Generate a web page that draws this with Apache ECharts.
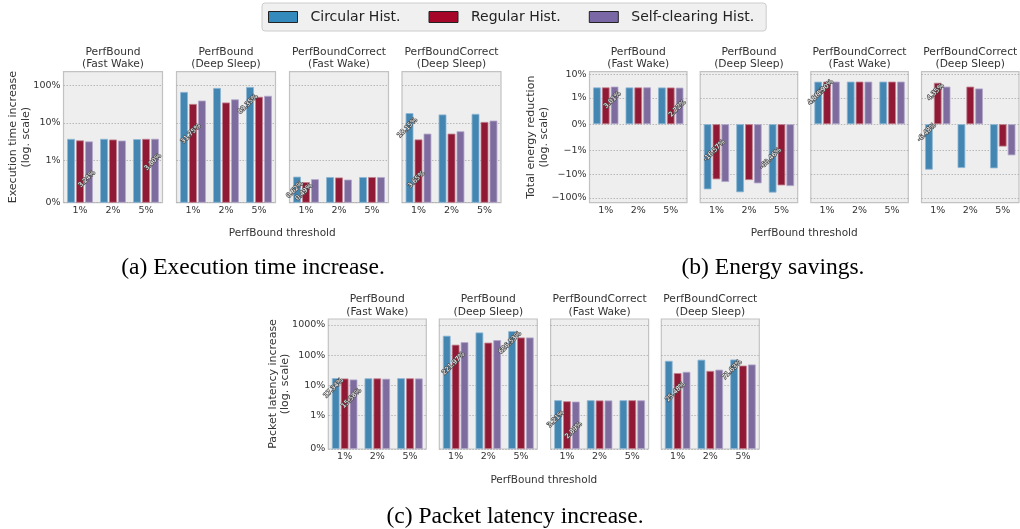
<!DOCTYPE html>
<html><head><meta charset="utf-8">
<script src="https://cdn.jsdelivr.net/npm/echarts@6/dist/echarts.min.js"></script>
<style>html,body{margin:0;padding:0;background:#fff}#c{width:1020px;height:529px}</style>
</head><body><div id="c"></div>
<script>
// ---------- data ----------
const categories = ['1%', '2%', '5%'];
const seriesNames = ['Circular Hist.', 'Regular Hist.', 'Self-clearing Hist.'];
const panelTitles = ['PerfBound\n(Fast Wake)', 'PerfBound\n(Deep Sleep)', 'PerfBoundCorrect\n(Fast Wake)', 'PerfBoundCorrect\n(Deep Sleep)'];

// Execution time increase (%), one row per panel, values for 1%,2%,5%
const execCircular = [[3.77, 3.78, 3.72], [66.0, 84.0, 89.35], [0.62, 0.61, 0.61], [18.15, 16.7, 17.3]];
const execRegular  = [[3.45, 3.63, 3.78], [31.75, 34.6, 49.0], [0.49, 0.60, 0.61], [3.65, 5.2, 10.6]];
const execSelfClr  = [[3.24, 3.41, 3.80], [39.0, 42.0, 52.0], [0.56, 0.55, 0.61], [5.2, 6.0, 11.5]];

// Total energy reduction (%)
const energyCircular = [[2.78, 2.77, 2.76], [-44.0, -58.5, -60.46], [4.86, 4.88, 4.88], [-6.48, -5.5, -5.7]];
const energyRegular  = [[2.79, 2.78, 2.75], [-16.57, -17.8, -29.9], [4.90, 4.89, 4.88], [4.35, 3.0, -0.85]];
const energySelfClr  = [[3.01, 2.80, 2.72], [-21.5, -24.6, -32.0], [4.89, 4.88, 4.89], [3.0, 2.5, -1.6]];

// Packet latency increase (%)
const latencyCircular = [[17.34, 17.1, 17.2], [440, 565, 626.53], [3.21, 3.20, 3.20], [64.6, 70.5, 71.63]];
const latencyRegular  = [[16.8, 17.0, 17.1], [221.97, 260, 385], [2.96, 3.15, 3.20], [25.48, 30.0, 45.0]];
const latencySelfClr  = [[15.58, 16.5, 16.9], [270, 316, 385], [2.89, 3.15, 3.18], [28.0, 33.0, 49.0]];

// annotated bars per panel: [seriesIndex, categoryIndex]
const execAnnot    = [[[2, 0], [2, 2]], [[1, 0], [0, 2]], [[0, 0], [1, 0]], [[0, 0], [1, 0]]];
const energyAnnot  = [[[2, 0], [2, 2]], [[1, 0], [0, 2]], [[0, 0], [1, 0]], [[1, 0], [0, 0]]];
const latencyAnnot = [[[0, 0], [2, 0]], [[1, 0], [0, 2]], [[0, 0], [2, 0]], [[1, 0], [0, 2]]];

// tick labels (%)
const execTicks = [0, 1, 10, 100];
const energyTicks = [-100, -10, -1, 0, 1, 10];
const latencyTicks = [0, 1, 10, 100, 1000];

// ---------- style / layout ----------
const barColors = ['#4386b2', '#901a36', '#7f6c9f'];
const barEdges = ['#8db6d4', '#c2808f', '#b3a8cb'];
const legendColors = ['#348ABD', '#A60628', '#7A68A6'];
// vertical placement of annotation labels (fraction of bar height from its top)
const execAnnotPos = [[0.58, 0.33], [0.28, 0.13], [0.42, 0.38], [0.14, 0.6]];
const energyAnnotPos = [[0.3, 0.51], [0.44, 0.47], [0.3, 0.1], [0.17, 0.13]];
const latencyAnnotPos = [[0.11, 0.24], [0.16, 0.08], [0.34, 0.56], [0.22, 0.09]];

const LS = 1 / (1 - 1 / 10); // matplotlib symlog linscale adjustment
function symlog(v) { const a = Math.abs(v); return a <= 1 ? v * LS : Math.sign(v) * (LS + Math.log10(a)); }
function invSymlog(t) { const a = Math.abs(t); return a <= LS ? t / LS : Math.sign(t) * Math.pow(10, a - LS); }

const FONT = '"DejaVu Sans", sans-serif';
const TXT = '#333333';

const groups = [
  { series: [execCircular, execRegular, execSelfClr], annot: execAnnot, annotPos: execAnnotPos, ticks: execTicks,
    range: [0, 3.466], lefts: [63.5, 176.5, 289.5, 402], width: 99, top: 71.7, height: 131,
    yName: 'Execution time increase\n(log. scale)', yNameX: 19.5,
    caption: '(a) Execution time increase.', capX: 253, capY: 268, xNameY: 233 },
  { series: [energyCircular, energyRegular, energySelfClr], annot: energyAnnot, annotPos: energyAnnotPos, ticks: energyTicks,
    range: [-3.32, 2.22], lefts: [589.5, 700.2, 810.8, 921.5], width: 97.5, top: 71.7, height: 131,
    yName: 'Total energy reduction\n(log. scale)', yNameX: 537.5,
    caption: '(b) Energy savings.', capX: 773, capY: 268, xNameY: 233 },
  { series: [latencyCircular, latencyRegular, latencySelfClr], annot: latencyAnnot, annotPos: latencyAnnotPos, ticks: latencyTicks,
    range: [0, 4.31], lefts: [328.3, 439.3, 550.6, 661.3], width: 98, top: 319, height: 130,
    yName: 'Packet latency increase\n(log. scale)', yNameX: 279.3,
    caption: '(c) Packet latency increase.', capX: 515, capY: 517, xNameY: 480 }
];

const grid = [], xAxis = [], yAxis = [], series = [], graphic = [];
let gi = 0;
groups.forEach(g => {
  for (let p = 0; p < 4; p++) {
    grid.push({ left: g.lefts[p], top: g.top, width: g.width, height: g.height, show: true,
      backgroundColor: '#eeeeee', borderColor: '#c2c2c2', borderWidth: 1.2 });
    xAxis.push({ type: 'category', gridIndex: gi, data: categories,
      axisLine: { show: false }, axisTick: { show: false },
      axisLabel: { fontSize: 9.5, color: TXT, fontFamily: FONT, margin: 3 }, splitLine: { show: false } });
    const tv = g.ticks.map(symlog);
    yAxis.push({ type: 'value', gridIndex: gi, min: g.range[0], max: g.range[1],
      axisLine: { show: false },
      axisTick: { show: false, customValues: tv },
      axisLabel: { show: p === 0, customValues: tv, fontSize: 9.5, color: TXT, fontFamily: FONT, margin: 3,
        formatter: t => { const v = Math.round(invSymlog(t)); return (v < 0 ? '\u2212' : '') + Math.abs(v) + '%'; } },
      splitLine: { show: true, lineStyle: { type: [1.5, 1.5], color: '#a9a9a9', width: 0.8 } } });
    for (let s = 0; s < 3; s++) {
      const vals = g.series[s][p];
      const data = vals.map((v, c) => {
        const item = { value: symlog(v) };
        const k = g.annot[p].findIndex(a => a[0] === s && a[1] === c);
        if (k >= 0) {
          item.label = { show: true, formatter: v.toFixed(2) + '%', position: ['50%', (g.annotPos[p][k] * 100) + '%'],
            offset: [-3, 0], rotate: 45, align: 'center', verticalAlign: 'middle',
            fontSize: 6.5, fontFamily: FONT, color: '#ffffff', textBorderColor: '#4a4a4a', textBorderWidth: 1.4 };
        }
        return item;
      });
      series.push({ type: 'bar', name: seriesNames[s], xAxisIndex: gi, yAxisIndex: gi, data,
        barGap: '15%', barCategoryGap: '22%', silent: true,
        itemStyle: { color: barColors[s], borderColor: barEdges[s], borderWidth: 0.8 } });
    }
    graphic.push({ type: 'text', x: g.lefts[p] + g.width / 2, y: g.top - 13.5,
      style: { text: panelTitles[p], align: 'center', verticalAlign: 'middle', lineHeight: 12.6,
        font: '10.7px ' + FONT, fill: TXT } });
    gi++;
  }
  graphic.push({ type: 'text', x: g.yNameX, y: g.top + g.height / 2, rotation: Math.PI / 2,
    style: { text: g.yName, align: 'center', verticalAlign: 'middle', lineHeight: 12.5, font: '11px ' + FONT, fill: TXT } });
  const x0 = g.lefts[0], x1 = g.lefts[3] + g.width;
  graphic.push({ type: 'text', x: (x0 + x1) / 2, y: g.xNameY,
    style: { text: 'PerfBound threshold', align: 'center', verticalAlign: 'middle', font: '10.5px ' + FONT, fill: TXT } });
  graphic.push({ type: 'text', x: g.capX, y: g.capY,
    style: { text: g.caption, align: 'center', verticalAlign: 'middle', font: '23.5px "Liberation Serif", serif', fill: '#000' } });
});

const chart = echarts.init(document.getElementById('c'), null, { renderer: 'canvas' });
chart.setOption({
  animation: false,
  backgroundColor: '#ffffff',
  textStyle: { fontFamily: FONT },
  legend: {
    top: 3, left: 262, orient: 'horizontal',
    backgroundColor: '#f0f0f0', borderColor: '#cccccc', borderWidth: 1, borderRadius: 3,
    padding: [7, 12, 7, 6], itemWidth: 29, itemHeight: 11, itemGap: 28,
    textStyle: { fontSize: 14, color: '#222', fontFamily: FONT, padding: [0, 0, 0, 8] },
    selectedMode: false,
    data: seriesNames.map((n, i) => ({ name: n, icon: 'rect',
      itemStyle: { color: legendColors[i], borderColor: '#222', borderWidth: 1 } }))
  },
  grid, xAxis, yAxis, series, graphic
});
</script>
</body></html>
